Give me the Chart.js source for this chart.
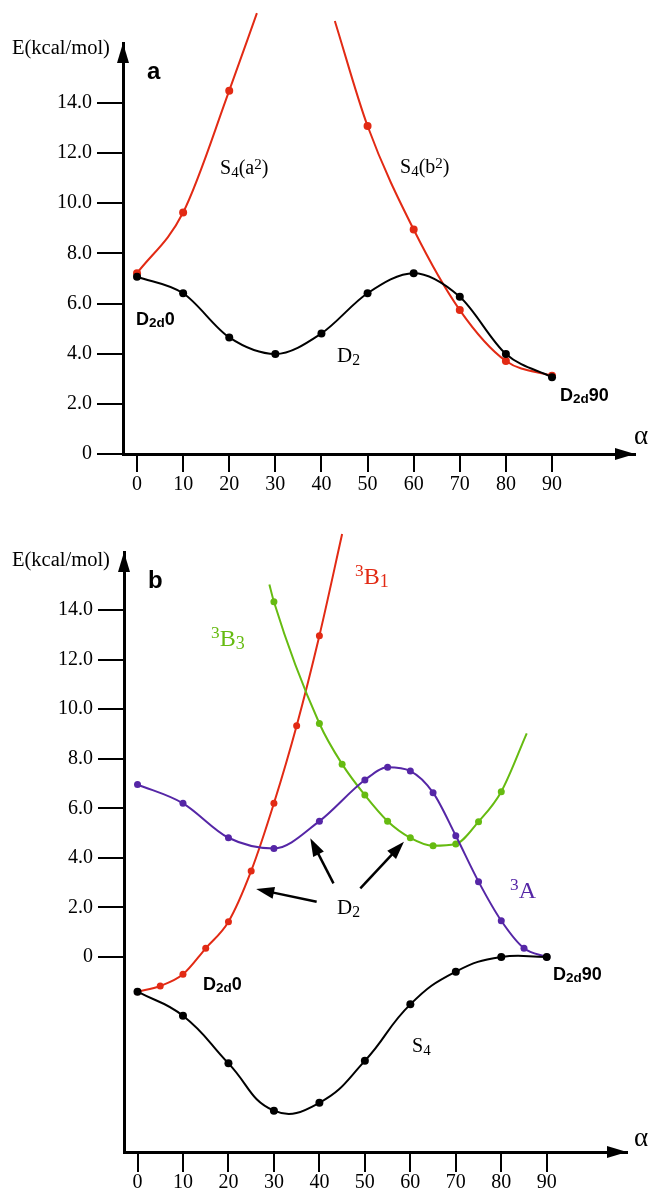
<!DOCTYPE html>
<html>
<head>
<meta charset="utf-8">
<script src="https://cdn.jsdelivr.net/npm/chart.js@4.4.1/dist/chart.umd.min.js"></script>
<style>
  html,body{margin:0;padding:0;background:#fff;}
  body{position:relative;width:653px;height:1193px;overflow:hidden;}
  canvas{position:absolute;left:0;}
  .t{position:absolute;line-height:1;transform:translateY(-50%);white-space:nowrap;color:#000;}
  .serif{font-family:"Liberation Serif","Times New Roman",serif;font-size:20px;}
  .bold{font-family:"Liberation Sans",Arial,sans-serif;font-weight:bold;font-size:18px;}
  .t sub,.t sup{font-size:0.75em;line-height:0;position:relative;vertical-align:baseline;}
  .t sub{top:0.18em;}
  .t sup{top:-0.35em;}
  .st sup{top:-0.45em;font-size:0.72em;}
</style>
</head>
<body>
<canvas id="ca" width="653" height="500" style="top:0;width:653px;height:500px"></canvas>
<canvas id="cb" width="653" height="693" style="top:500px;width:653px;height:693px"></canvas>

<!-- panel a labels -->
<div class="t serif" style="left:12px;top:47px;font-size:20.5px">E(kcal/mol)</div>
<div class="t bold" style="left:147px;top:71px;font-size:24px">a</div>
<div class="t serif" style="left:220px;top:167px">S<sub>4</sub>(a<sup>2</sup>)</div>
<div class="t serif" style="left:400px;top:166px">S<sub>4</sub>(b<sup>2</sup>)</div>
<div class="t serif" style="left:337px;top:355px;font-size:21px">D<sub>2</sub></div>
<div class="t bold" style="left:136px;top:319px">D<sub>2d</sub>0</div>
<div class="t bold" style="left:560px;top:395px">D<sub>2d</sub>90</div>
<div class="t serif" style="left:634px;top:435px;font-size:27px">α</div>

<!-- panel b labels -->
<div class="t serif" style="left:12px;top:559px;font-size:20.5px">E(kcal/mol)</div>
<div class="t bold" style="left:148px;top:580px;font-size:24px">b</div>
<div class="t serif st" style="left:211px;top:638px;font-size:24px;color:#66bb11"><sup>3</sup>B<sub>3</sub></div>
<div class="t serif st" style="left:355px;top:576px;font-size:24px;color:#e22a14"><sup>3</sup>B<sub>1</sub></div>
<div class="t serif st" style="left:510px;top:890px;font-size:24px;color:#5526a6"><sup>3</sup>A</div>
<div class="t serif" style="left:337px;top:907px;font-size:21px">D<sub>2</sub></div>
<div class="t bold" style="left:203px;top:984px">D<sub>2d</sub>0</div>
<div class="t bold" style="left:553px;top:974px">D<sub>2d</sub>90</div>
<div class="t serif" style="left:412px;top:1045px">S<sub>4</sub></div>
<div class="t serif" style="left:634px;top:1137px;font-size:27px">α</div>

<script>
// ---------- shared ticks ----------
const xTickValues = [0, 10, 20, 30, 40, 50, 60, 70, 80, 90];
const yTickValues = [0, 2, 4, 6, 8, 10, 12, 14];

// ---------- panel a ----------
const alphaD2a = [0, 10, 20, 30, 40, 50, 60, 70, 80, 90];
const eD2a     = [7.07, 6.41, 4.65, 3.99, 4.81, 6.41, 7.21, 6.27, 3.99, 3.06];
const alphaS4a = [0, 10, 20];
const eS4a     = [7.21, 9.63, 14.49];
const endS4a   = [26.0, 17.58];          // where the drawn S4(a2) curve stops (no marker)
const alphaS4b = [50, 60, 70, 80, 90];
const eS4b     = [13.08, 8.95, 5.74, 3.71, 3.12];
const startS4b = [42.9, 17.27];          // where the drawn S4(b2) curve starts (no marker)

// ---------- panel b ----------
const alpha3A = [0, 10, 20, 30, 40, 50, 55, 60, 65, 70, 75, 80, 85, 90];
const e3A     = [6.96, 6.20, 4.81, 4.38, 5.48, 7.14, 7.65, 7.50, 6.63, 4.89, 3.04, 1.46, 0.35, 0.00];
const alpha3B3 = [30, 40, 45, 50, 55, 60, 65, 70, 75, 80];
const e3B3     = [14.33, 9.42, 7.78, 6.53, 5.48, 4.81, 4.49, 4.56, 5.46, 6.67];
const start3B3 = [29.0, 15.03];
const end3B3   = [85.6, 9.02];
const alpha3B1 = [0, 5, 10, 15, 20, 25, 30, 35, 40, 45];
const e3B1     = [-1.40, -1.17, -0.70, 0.35, 1.42, 3.47, 6.20, 9.33, 12.96, 17.06];
const alphaS4  = [0, 10, 20, 30, 40, 50, 60, 70, 80, 90];
const eS4      = [-1.40, -2.37, -4.29, -6.20, -5.88, -4.19, -1.91, -0.59, 0.00, 0.00];

// D2 pointer arrows in panel b: [tailAlpha, tailE, tipAlpha, tipE]
const d2ArrowsB = [
  [39.4, 2.23, 26.1, 2.74],
  [43.1, 2.97, 38.0, 4.79],
  [49.0, 2.77, 58.6, 4.65]
];

const RED = '#e22a14', GREEN = '#66bb11', PURPLE = '#5526a6', BLACK = '#000000';

function series(xs, ys, color, r, head, tail, tension) {
  const data = [];
  if (head) data.push({x: head[0], y: head[1]});
  xs.forEach((x, i) => data.push({x: x, y: ys[i]}));
  if (tail) data.push({x: tail[0], y: tail[1]});
  const radii = data.map((_, i) => ((head && i === 0) || (tail && i === data.length - 1)) ? 0 : r);
  const ds = {
    data, borderColor: color, backgroundColor: color,
    pointRadius: radii, pointHoverRadius: radii, pointBorderWidth: 0,
    borderWidth: 2, clip: false, fill: false
  };
  if (tension) { ds.tension = tension; ds.cubicInterpolationMode = 'default'; }
  else { ds.tension = 0.4; ds.cubicInterpolationMode = 'monotone'; }
  return ds;
}

function drawHead(ctx, tx, ty, fx, fy, len, half) {
  const dx = tx - fx, dy = ty - fy, L = Math.hypot(dx, dy);
  const ux = dx / L, uy = dy / L;
  const bx = tx - ux * len, by = ty - uy * len;
  ctx.beginPath();
  ctx.moveTo(tx, ty);
  ctx.lineTo(bx - uy * half, by + ux * half);
  ctx.lineTo(bx + uy * half, by - ux * half);
  ctx.closePath();
  ctx.fill();
}

const axisArrows = {
  id: 'axisArrows',
  afterDraw(chart, args, opts) {
    const {ctx, chartArea: a} = chart;
    ctx.save();
    ctx.fillStyle = '#000';
    drawHead(ctx, a.left, a.top, a.left, a.top + 30, 20, 6);
    drawHead(ctx, a.right, a.bottom, a.right - 30, a.bottom, 20, 6);
    const arrows = (opts && opts.list) || [];
    const xs = chart.scales.x, ys = chart.scales.y;
    ctx.strokeStyle = '#000';
    ctx.lineWidth = 2.5;
    arrows.forEach(ar => {
      const x1 = xs.getPixelForValue(ar[0]), y1 = ys.getPixelForValue(ar[1]);
      const x2 = xs.getPixelForValue(ar[2]), y2 = ys.getPixelForValue(ar[3]);
      const L = Math.hypot(x2 - x1, y2 - y1);
      const ex = x2 - (x2 - x1) / L * 15, ey = y2 - (y2 - y1) / L * 15;
      ctx.beginPath(); ctx.moveTo(x1, y1); ctx.lineTo(ex, ey); ctx.stroke();
      drawHead(ctx, x2, y2, x1, y1, 18, 6);
    });
    ctx.restore();
  }
};

function makeOptions(c) {
  const tickFont = {family: 'Liberation Serif', size: 20, lineHeight: 1};
  return {
    responsive: false, maintainAspectRatio: false, animation: false, events: [],
    devicePixelRatio: 1,
    layout: {padding: {top: c.padTop, right: c.padRight, left: 0, bottom: 0}},
    plugins: {legend: {display: false}, tooltip: {enabled: false}, axisArrows: {list: c.arrows || []}},
    elements: {line: {capBezierPoints: false}, point: {borderWidth: 0}},
    scales: {
      x: {
        type: 'linear', min: c.xMin, max: c.xMax,
        afterBuildTicks: s => { s.ticks = xTickValues.map(v => ({value: v})); },
        afterFit: s => { s.height = c.xHeight; },
        grid: {display: true, drawOnChartArea: false, drawTicks: true, tickLength: c.xTickLen, lineWidth: 2, color: '#000'},
        border: {display: true, width: 3, color: '#000'},
        ticks: {autoSkip: false, maxRotation: 0, padding: c.xLabelPad, color: '#000', font: tickFont,
                callback: v => String(v)}
      },
      y: {
        type: 'linear', min: c.yMin, max: c.yMax,
        afterBuildTicks: s => { s.ticks = yTickValues.map(v => ({value: v})); },
        afterFit: s => { s.width = c.yWidth; },
        grid: {display: true, drawOnChartArea: false, drawTicks: true, tickLength: 26, lineWidth: 2, color: '#000'},
        border: {display: true, width: 3, color: '#000'},
        ticks: {autoSkip: false, padding: 5, color: '#000', font: tickFont,
                callback: v => v === 0 ? '0' : v.toFixed(1)}
      }
    }
  };
}

new Chart(document.getElementById('ca'), {
  type: 'line',
  data: {datasets: [
    series(alphaD2a, eD2a, BLACK, 4),
    series(alphaS4a, eS4a, RED, 4, null, endS4a),
    series(alphaS4b, eS4b, RED, 4, startS4b, null)
  ]},
  options: makeOptions({xMin: -3.04, xMax: 108.0, yMin: 0, yMax: 16.39,
    padTop: 43, padRight: 18, yWidth: 123, xHeight: 46, xTickLen: 18, xLabelPad: 3}),
  plugins: [axisArrows]
});

new Chart(document.getElementById('cb'), {
  type: 'line',
  data: {datasets: [
    series(alphaS4, eS4, BLACK, 4, null, null, 0.45),
    series(alpha3A, e3A, PURPLE, 3.5),
    series(alpha3B3, e3B3, GREEN, 3.5, start3B3, end3B3),
    series(alpha3B1, e3B1, RED, 3.5)
  ]},
  options: makeOptions({xMin: -2.97, xMax: 107.65, yMin: -7.866, yMax: 16.337,
    padTop: 52, padRight: 26, yWidth: 124, xHeight: 41, xTickLen: 20, xLabelPad: 1,
    arrows: d2ArrowsB}),
  plugins: [axisArrows]
});
</script>
</body>
</html>
